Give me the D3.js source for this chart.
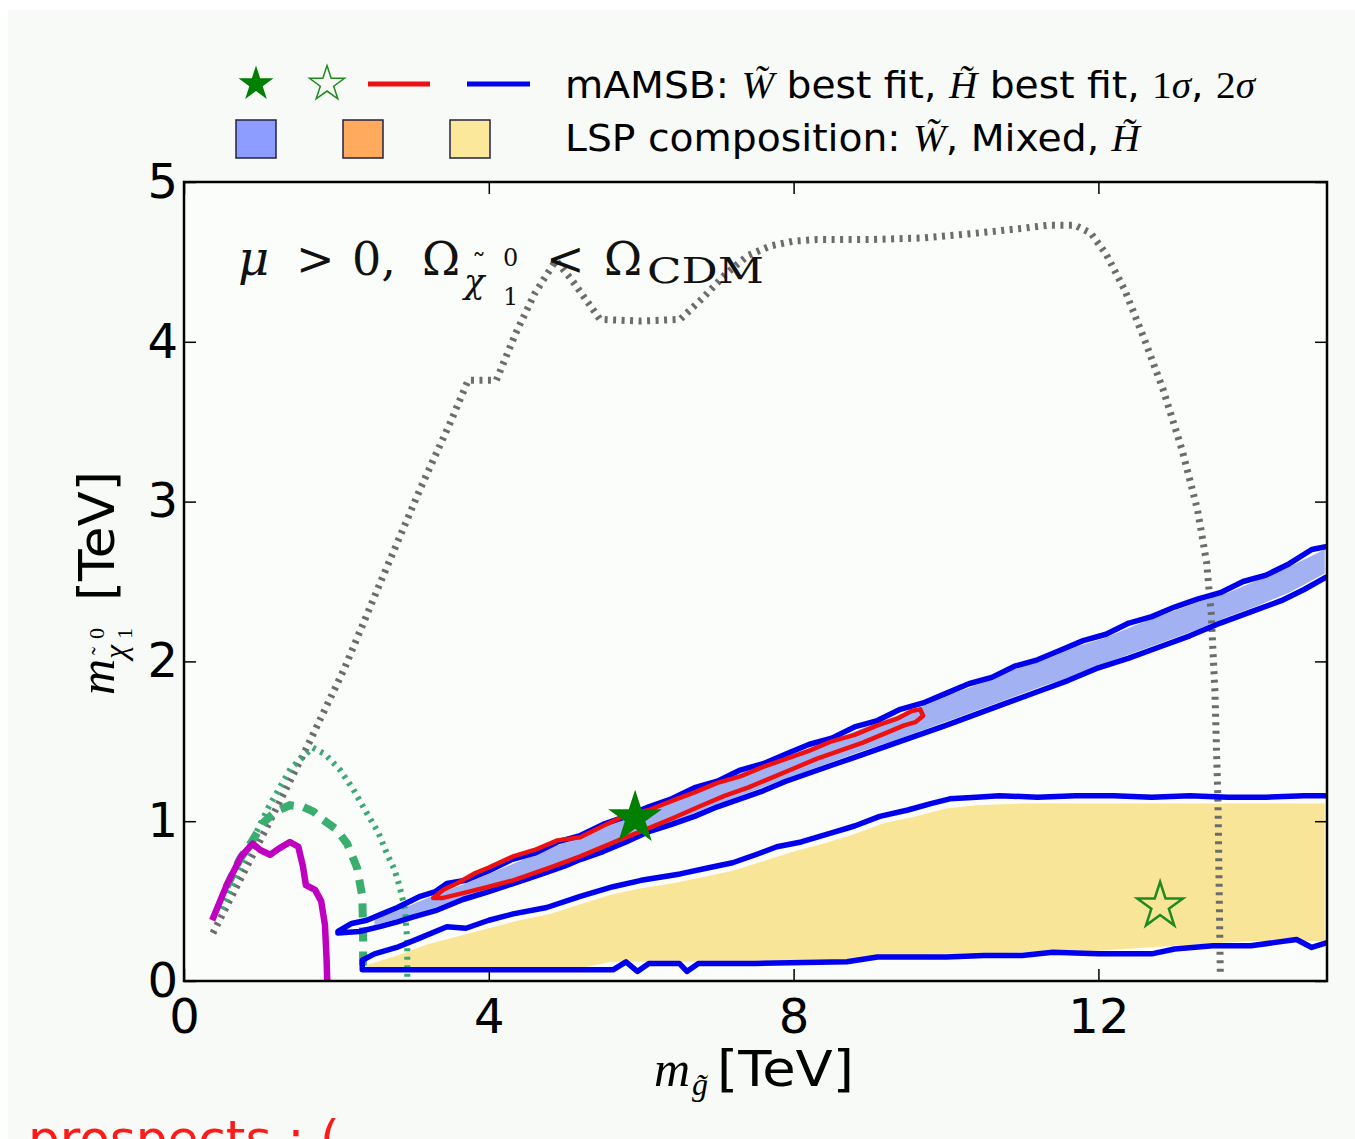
<!DOCTYPE html>
<html>
<head>
<meta charset="utf-8">
<script src="https://cdn.jsdelivr.net/npm/d3@7"></script>
<style>
body { margin: 0; background: #ffffff; }
svg { display: block; }
</style>
</head>
<body>
<div class="mydiv"></div>
<script>
var width = 1355;
var height = 1139;

// tick labels
var xTicks = [0, 4, 8, 12];
var yTicks = [0, 1, 2, 3, 4, 5];

// grey dotted reach curve
var greyX = [0.38, 1.0, 1.6, 2.1, 2.6, 3.1, 3.5, 3.73, 4.1, 4.35, 4.6, 4.88, 5.1, 5.46, 6.0, 6.51, 6.8, 7.1, 7.4, 7.7, 8.0, 8.3, 9.0, 9.7, 10.4, 11.0, 11.35, 11.69, 11.9, 12.1, 12.35, 12.6, 12.85, 13.1, 13.3, 13.42, 13.48, 13.53, 13.57, 13.6];
var greyY = [0.30, 0.88, 1.45, 1.95, 2.52, 3.08, 3.50, 3.76, 3.76, 4.05, 4.30, 4.51, 4.38, 4.14, 4.13, 4.14, 4.27, 4.42, 4.54, 4.60, 4.63, 4.64, 4.64, 4.65, 4.68, 4.71, 4.73, 4.73, 4.68, 4.55, 4.32, 4.02, 3.70, 3.32, 2.95, 2.62, 2.30, 1.80, 1.10, 0.04];

// green dotted curve
var gDotX = [0.5, 0.8, 1.1, 1.4, 1.69, 1.85, 2.05, 2.22, 2.4, 2.55, 2.66, 2.76, 2.83, 2.9, 2.93, 2.93];
var gDotY = [0.45, 0.78, 1.08, 1.33, 1.46, 1.42, 1.32, 1.20, 1.05, 0.93, 0.80, 0.70, 0.59, 0.45, 0.25, 0.0];

// green dashed curve
var gDashX = [0.56, 0.73, 0.9, 1.04, 1.2, 1.39, 1.56, 1.7, 1.82, 2.0, 2.14, 2.27, 2.34, 2.35, 2.35];
var gDashY = [0.59, 0.76, 0.88, 0.99, 1.06, 1.10, 1.09, 1.06, 1.01, 0.95, 0.86, 0.71, 0.53, 0.32, 0.08];

// magenta curve
var magX = [0.37, 0.56, 0.75, 0.9, 1.0, 1.13, 1.25, 1.39, 1.5, 1.56, 1.6, 1.72, 1.8, 1.85, 1.87, 1.88];
var magY = [0.38, 0.6, 0.78, 0.86, 0.82, 0.79, 0.83, 0.87, 0.84, 0.72, 0.6, 0.57, 0.5, 0.35, 0.15, 0.0];

// wino 2 sigma contour (upper and lower edge)
var winoUpX = [2.02, 2.2, 2.4, 2.6, 2.8, 3.1, 3.3, 3.45, 3.7, 4.0, 4.3, 4.6, 4.9, 5.2, 5.5, 5.8, 6.1, 6.4, 6.7, 7.0, 7.3, 7.6, 7.9, 8.2, 8.5, 8.8, 9.1, 9.4, 9.7, 10.0, 10.3, 10.6, 10.9, 11.2, 11.5, 11.8, 12.1, 12.4, 12.7, 13.0, 13.3, 13.6, 13.9, 14.2, 14.5, 14.8, 15.0];
var winoUpY = [0.31, 0.36, 0.38, 0.42, 0.46, 0.53, 0.56, 0.61, 0.63, 0.69, 0.76, 0.80, 0.87, 0.91, 0.98, 1.03, 1.09, 1.14, 1.21, 1.25, 1.32, 1.36, 1.42, 1.48, 1.52, 1.59, 1.63, 1.70, 1.74, 1.80, 1.86, 1.90, 1.97, 2.01, 2.07, 2.13, 2.17, 2.24, 2.28, 2.34, 2.39, 2.43, 2.50, 2.54, 2.61, 2.70, 2.72];
var winoLoX = [2.02, 2.3, 2.57, 2.8, 3.0, 3.3, 3.66, 4.0, 4.32, 4.7, 5.0, 5.2, 5.5, 5.8, 6.07, 6.4, 6.7, 7.0, 7.3, 7.6, 7.9, 8.2, 8.5, 8.8, 9.1, 9.4, 9.7, 10.0, 10.4, 10.8, 11.2, 11.6, 12.0, 12.4, 12.8, 13.2, 13.6, 14.0, 14.4, 14.7, 15.0];
var winoLoY = [0.30, 0.31, 0.34, 0.37, 0.40, 0.44, 0.51, 0.56, 0.61, 0.67, 0.72, 0.76, 0.81, 0.87, 0.93, 0.98, 1.03, 1.09, 1.14, 1.19, 1.25, 1.30, 1.35, 1.40, 1.45, 1.50, 1.55, 1.60, 1.67, 1.74, 1.81, 1.88, 1.96, 2.02, 2.09, 2.16, 2.24, 2.31, 2.38, 2.45, 2.53];

// higgsino 2 sigma contour
var higUpX = [2.34, 2.5, 2.79, 3.1, 3.45, 3.7, 4.0, 4.32, 4.76, 5.2, 5.63, 6.0, 6.51, 6.9, 7.2, 7.5, 7.78, 8.1, 8.52, 8.8, 9.13, 9.5, 9.8, 10.05, 10.4, 10.7, 11.2, 11.7, 12.2, 12.7, 13.2, 13.7, 14.2, 14.7, 15.0];
var higUpY = [0.13, 0.17, 0.21, 0.27, 0.34, 0.33, 0.38, 0.42, 0.46, 0.53, 0.59, 0.63, 0.67, 0.71, 0.74, 0.79, 0.84, 0.87, 0.93, 0.97, 1.03, 1.07, 1.11, 1.14, 1.15, 1.16, 1.15, 1.16, 1.16, 1.15, 1.16, 1.15, 1.15, 1.16, 1.16];
var higLoX = [2.34, 3.0, 4.0, 5.0, 5.63, 5.8, 5.95, 6.1, 6.5, 6.6, 6.75, 7.5, 8.7, 9.1, 10.0, 10.5, 11.0, 11.4, 12.0, 12.7, 13.0, 13.5, 14.0, 14.3, 14.6, 14.8, 15.0];
var higLoY = [0.07, 0.07, 0.07, 0.07, 0.07, 0.12, 0.06, 0.11, 0.11, 0.06, 0.11, 0.11, 0.12, 0.15, 0.15, 0.16, 0.16, 0.18, 0.17, 0.17, 0.20, 0.22, 0.22, 0.24, 0.26, 0.21, 0.24];

// 1 sigma contour (red)
var redUpX = [3.27, 3.4, 3.58, 3.8, 4.0, 4.32, 4.6, 4.9, 5.2, 5.5, 5.76, 6.1, 6.42, 6.7, 7.0, 7.3, 7.6, 7.9, 8.2, 8.5, 8.8, 9.1, 9.35, 9.55, 9.66, 9.7];
var redUpY = [0.52, 0.57, 0.61, 0.67, 0.71, 0.78, 0.82, 0.88, 0.90, 0.97, 1.03, 1.07, 1.13, 1.18, 1.24, 1.28, 1.34, 1.39, 1.44, 1.50, 1.54, 1.60, 1.64, 1.69, 1.70, 1.66];
var redLoX = [9.6, 9.45, 9.2, 8.9, 8.6, 8.3, 8.0, 7.7, 7.4, 7.1, 6.8, 6.42, 6.07, 5.7, 5.2, 4.8, 4.32, 4.0, 3.66, 3.4];
var redLoY = [1.62, 1.60, 1.55, 1.49, 1.44, 1.39, 1.33, 1.27, 1.21, 1.16, 1.10, 1.02, 0.95, 0.88, 0.78, 0.71, 0.63, 0.59, 0.55, 0.52];

// LSP composition fills
var winoFillX = [2.5, 2.9, 3.3, 3.7, 4.1, 4.5, 4.9, 5.3, 5.7, 6.1, 6.5, 6.9, 7.3, 7.7, 8.1, 8.5, 8.9, 9.3, 9.7, 10.1, 10.5, 10.9, 11.3, 11.7, 12.1, 12.5, 12.9, 13.3, 13.7, 14.1, 14.5, 14.97];
var winoFillTop = [0.38, 0.46, 0.54, 0.61, 0.69, 0.77, 0.85, 0.91, 1.00, 1.07, 1.14, 1.22, 1.30, 1.36, 1.44, 1.50, 1.58, 1.65, 1.72, 1.80, 1.87, 1.95, 2.01, 2.09, 2.15, 2.23, 2.30, 2.37, 2.43, 2.51, 2.59, 2.70];
var winoFillBot = [0.35, 0.40, 0.46, 0.53, 0.59, 0.66, 0.72, 0.79, 0.87, 0.95, 1.01, 1.09, 1.16, 1.23, 1.30, 1.37, 1.44, 1.50, 1.57, 1.64, 1.71, 1.78, 1.85, 1.91, 1.99, 2.06, 2.13, 2.20, 2.28, 2.35, 2.43, 2.55];
var higFillX = [2.4, 2.8, 3.2, 3.6, 4.0, 4.4, 4.8, 5.2, 5.6, 6.0, 6.4, 6.8, 7.2, 7.6, 8.0, 8.4, 8.8, 9.2, 9.6, 10.0, 10.4, 11.0, 12.0, 13.0, 14.0, 14.97];
var higFillTop = [0.10, 0.16, 0.23, 0.28, 0.33, 0.38, 0.42, 0.48, 0.54, 0.58, 0.61, 0.65, 0.69, 0.75, 0.81, 0.86, 0.92, 0.99, 1.03, 1.08, 1.10, 1.11, 1.11, 1.11, 1.11, 1.11];
var higFillBot = [0.08, 0.08, 0.08, 0.08, 0.08, 0.08, 0.08, 0.08, 0.12, 0.12, 0.12, 0.12, 0.12, 0.12, 0.12, 0.13, 0.14, 0.16, 0.16, 0.17, 0.17, 0.18, 0.19, 0.22, 0.25, 0.25];

// best fit points
var bestWino = [5.92, 1.02];
var bestHiggsino = [12.81, 0.47];

var svg = d3.select(".mydiv")
	.append("svg")
	.attr("width", width)
	.attr("height", height);

svg.append("rect").attr("width", width).attr("height", height).attr("fill", "#ffffff");
svg.append("rect").attr("x", 8).attr("y", 10).attr("width", width - 8).attr("height", height - 10).attr("fill", "#f7faf7");

var x = d3.scaleLinear().domain([0, 15]).range([184, 1327]);
var y = d3.scaleLinear().domain([0, 5]).range([981, 182]);

svg.append("clipPath").attr("id", "plotclip")
	.append("rect")
	.attr("x", x(0)).attr("y", y(5))
	.attr("width", x(15) - x(0)).attr("height", y(0) - y(5));

svg.append("rect")
	.attr("x", x(0)).attr("y", y(5))
	.attr("width", x(15) - x(0)).attr("height", y(0) - y(5))
	.attr("fill", "#fbfdfb");

var plot = svg.append("g").attr("clip-path", "url(#plotclip)");

var line = d3.line()
	.x(function(d) { return x(d[0]); })
	.y(function(d) { return y(d[1]); });

var band = d3.area()
	.x(function(d) { return x(d[0]); })
	.y0(function(d) { return y(d[1]); })
	.y1(function(d) { return y(d[2]); });

// fills
plot.append("path")
	.attr("d", band(d3.zip(higFillX, higFillBot, higFillTop)))
	.attr("fill", "#f8e597");
plot.append("path")
	.attr("d", band(d3.zip(winoFillX, winoFillBot, winoFillTop)))
	.attr("fill", "#a2b1f2");

// dotted and dashed curves
plot.append("path")
	.attr("d", line(d3.zip(greyX, greyY)))
	.attr("fill", "none").attr("stroke", "#6c6c6c")
	.attr("stroke-width", 7).attr("stroke-dasharray", "3,5.5");
plot.append("path")
	.attr("d", line(d3.zip(gDotX, gDotY)))
	.attr("fill", "none").attr("stroke", "#3aa874")
	.attr("stroke-width", 6).attr("stroke-dasharray", "3,5.5");
plot.append("path")
	.attr("d", line(d3.zip(gDashX, gDashY)))
	.attr("fill", "none").attr("stroke", "#3aae6e")
	.attr("stroke-width", 8).attr("stroke-dasharray", "14,10");
plot.append("path")
	.attr("d", line(d3.zip(magX, magY)))
	.attr("fill", "none").attr("stroke", "#c000c0")
	.attr("stroke-width", 6.5).attr("stroke-linejoin", "round");

// 2 sigma contours
var winoPts = d3.zip(winoUpX, winoUpY).reverse().concat(d3.zip(winoLoX, winoLoY));
var higPts = d3.zip(higUpX, higUpY).reverse().concat(d3.zip(higLoX, higLoY));
[winoPts, higPts].forEach(function(pts) {
	plot.append("path")
		.attr("d", line(pts))
		.attr("fill", "none").attr("stroke", "#0000ee")
		.attr("stroke-width", 5.5).attr("stroke-linejoin", "round");
});

// 1 sigma contour
var redPts = d3.zip(redUpX, redUpY).concat(d3.zip(redLoX, redLoY));
plot.append("path")
	.attr("d", line(redPts) + "Z")
	.attr("fill", "none").attr("stroke", "#ee1111")
	.attr("stroke-width", 4.5).attr("stroke-linejoin", "round");

// best fit stars
plot.append("path")
	.attr("d", d3.symbol().type(d3.symbolStar).size(900)())
	.attr("transform", "translate(" + x(bestWino[0]) + "," + y(bestWino[1]) + ")")
	.attr("fill", "#007f00");
plot.append("path")
	.attr("d", d3.symbol().type(d3.symbolStar).size(650)())
	.attr("transform", "translate(" + x(bestHiggsino[0]) + "," + y(bestHiggsino[1]) + ")")
	.attr("fill", "none").attr("stroke", "#1f8a1f").attr("stroke-width", 2.5);

// annotation
var serif = "'DejaVu Serif', 'Liberation Serif', serif";
var note = svg.append("g").attr("fill", "#111111").attr("font-family", serif);
function put(txt, px, py, size, italic, len) {
	var t = note.append("text").attr("x", px).attr("y", py)
		.attr("font-size", size).text(txt);
	if (italic) t.attr("font-style", "italic");
	if (len) t.attr("textLength", len).attr("lengthAdjust", "spacingAndGlyphs");
	return t;
}
put("\u03bc", 238, 275, 48, true);
put(">", 296, 275, 46);
put("0,", 352, 275, 46);
put("\u03a9", 422, 275, 46);
put("\u03c7", 464, 293, 34, true);
put("\u02dc", 472, 274, 28);
put("0", 503, 266, 24);
put("1", 503, 305, 24);
put("<", 546, 275, 46);
put("\u03a9", 604, 275, 46);
put("CDM", 647, 283, 36, false, 117);

// frame and axes
var sans = "'DejaVu Sans', sans-serif";
function styleAxis(g) {
	g.select(".domain").remove();
	g.selectAll("line").attr("stroke", "#000").attr("stroke-width", 1.5);
	g.selectAll("text").attr("font-family", sans).attr("font-size", 48).attr("fill", "#000");
}
svg.append("g").attr("transform", "translate(0," + y(0) + ")")
	.call(d3.axisBottom(x).tickValues(xTicks).tickSizeInner(-12).tickSizeOuter(0).tickPadding(18).tickFormat(d3.format("d")))
	.call(styleAxis);
svg.append("g").attr("transform", "translate(0," + y(5) + ")")
	.call(d3.axisTop(x).tickValues(xTicks).tickSizeInner(-12).tickSizeOuter(0).tickFormat(""))
	.call(styleAxis);
svg.append("g").attr("transform", "translate(" + x(0) + ",0)")
	.call(d3.axisLeft(y).tickValues(yTicks).tickSizeInner(-12).tickSizeOuter(0).tickPadding(6).tickFormat(d3.format("d")))
	.call(styleAxis);
svg.append("g").attr("transform", "translate(" + x(15) + ",0)")
	.call(d3.axisRight(y).tickValues(yTicks).tickSizeInner(-12).tickSizeOuter(0).tickFormat(""))
	.call(styleAxis);

svg.append("rect")
	.attr("x", x(0)).attr("y", y(5))
	.attr("width", x(15) - x(0)).attr("height", y(0) - y(5))
	.attr("fill", "none").attr("stroke", "#000").attr("stroke-width", 2.5);

// axis titles
var mathFont = "'Liberation Serif', 'DejaVu Serif', serif";
var xt = svg.append("g");
xt.append("text").attr("x", 654).attr("y", 1086).attr("font-family", mathFont)
	.attr("font-style", "italic").attr("font-size", 50).text("m");
xt.append("text").attr("x", 692).attr("y", 1095).attr("font-family", mathFont)
	.attr("font-style", "italic").attr("font-size", 32).text("g\u0303");
xt.append("text").attr("x", 717).attr("y", 1086).attr("font-family", sans)
	.attr("font-size", 50).attr("textLength", 137).attr("lengthAdjust", "spacingAndGlyphs").text("[TeV]");

var yt = svg.append("g").attr("transform", "translate(114,695) rotate(-90)");
yt.append("text").attr("x", 0).attr("y", 0).attr("font-family", mathFont)
	.attr("font-style", "italic").attr("font-size", 50).text("m");
yt.append("text").attr("x", 36).attr("y", 12).attr("font-family", mathFont)
	.attr("font-style", "italic").attr("font-size", 32).text("\u03c7");
yt.append("text").attr("x", 40).attr("y", -6).attr("font-family", mathFont)
	.attr("font-size", 24).text("\u02dc");
yt.append("text").attr("x", 56).attr("y", -10).attr("font-family", mathFont)
	.attr("font-size", 22).text("0");
yt.append("text").attr("x", 56).attr("y", 18).attr("font-family", mathFont)
	.attr("font-size", 22).text("1");
yt.append("text").attr("x", 94).attr("y", 0).attr("font-family", sans)
	.attr("font-size", 50).attr("textLength", 130).attr("lengthAdjust", "spacingAndGlyphs").text("[TeV]");

// legend
var leg = svg.append("g");
leg.append("path").attr("d", d3.symbol().type(d3.symbolStar).size(380)())
	.attr("transform", "translate(256,84)").attr("fill", "#007f00");
leg.append("path").attr("d", d3.symbol().type(d3.symbolStar).size(380)())
	.attr("transform", "translate(327,84)").attr("fill", "none")
	.attr("stroke", "#1f8a1f").attr("stroke-width", 1.5);
leg.append("line").attr("x1", 368).attr("x2", 430).attr("y1", 84).attr("y2", 84)
	.attr("stroke", "#ee1111").attr("stroke-width", 5);
leg.append("line").attr("x1", 467).attr("x2", 530).attr("y1", 84).attr("y2", 84)
	.attr("stroke", "#0000ee").attr("stroke-width", 5);
var swatch = ["#8c9cff", "#ffaa5c", "#fbe89a"];
var swatchX = [236, 343, 450];
swatch.forEach(function(c, i) {
	leg.append("rect").attr("x", swatchX[i]).attr("y", 120).attr("width", 40).attr("height", 38)
		.attr("fill", c).attr("stroke", "#222244").attr("stroke-width", 1.5);
});

var row1 = leg.append("text").attr("x", 565).attr("y", 98)
	.attr("font-family", sans).attr("font-size", 38).attr("fill", "#000")
	.attr("textLength", 690).attr("lengthAdjust", "spacingAndGlyphs");
row1.append("tspan").text("mAMSB: ");
row1.append("tspan").attr("font-family", mathFont).attr("font-style", "italic").text("W\u0303");
row1.append("tspan").text(" best fit, ");
row1.append("tspan").attr("font-family", mathFont).attr("font-style", "italic").text("H\u0303");
row1.append("tspan").text(" best fit, ");
row1.append("tspan").attr("font-family", mathFont).text("1");
row1.append("tspan").attr("font-family", mathFont).attr("font-style", "italic").text("\u03c3");
row1.append("tspan").text(", ");
row1.append("tspan").attr("font-family", mathFont).text("2");
row1.append("tspan").attr("font-family", mathFont).attr("font-style", "italic").text("\u03c3");

var row2 = leg.append("text").attr("x", 565).attr("y", 151)
	.attr("font-family", sans).attr("font-size", 38).attr("fill", "#000")
	.attr("textLength", 575).attr("lengthAdjust", "spacingAndGlyphs");
row2.append("tspan").text("LSP composition: ");
row2.append("tspan").attr("font-family", mathFont).attr("font-style", "italic").text("W\u0303");
row2.append("tspan").text(", Mixed, ");
row2.append("tspan").attr("font-family", mathFont).attr("font-style", "italic").text("H\u0303");

// caption below, cut off by the page edge as in the source image
svg.append("text").attr("x", 28).attr("y", 1156)
	.attr("font-family", sans).attr("font-size", 50).attr("fill", "#ff1a1a")
	.text("prospects : (");
</script>
</body>
</html>
